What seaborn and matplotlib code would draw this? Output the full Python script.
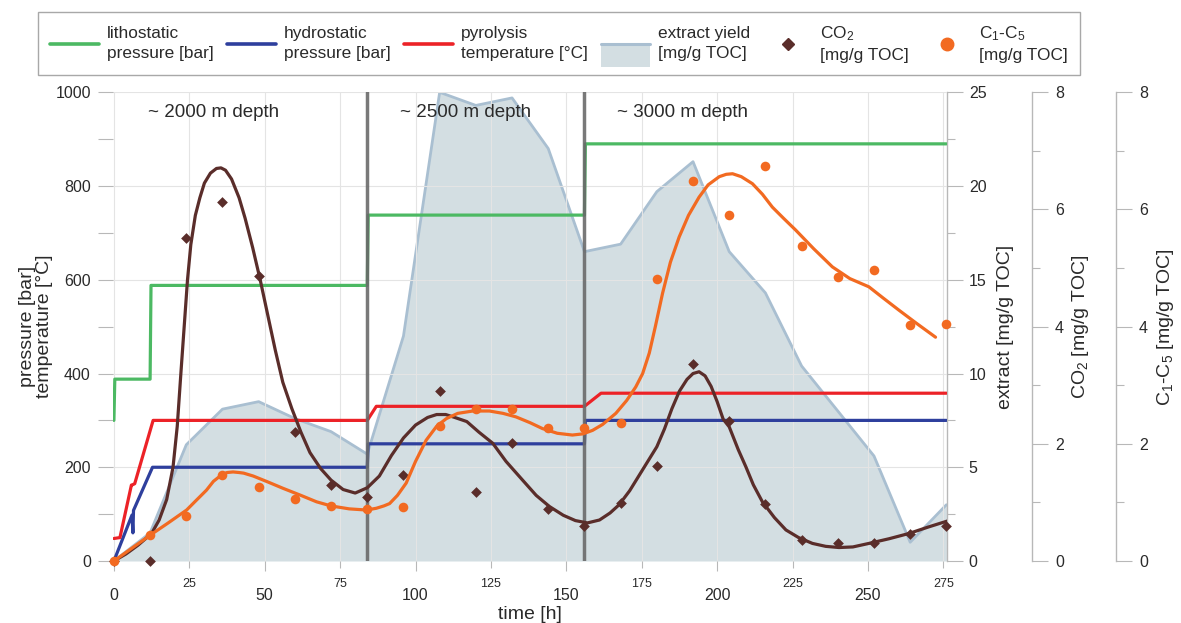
import matplotlib
matplotlib.use("Agg")
import matplotlib.pyplot as plt
import seaborn as sns
from matplotlib.lines import Line2D
from matplotlib.patches import Rectangle
from matplotlib.legend_handler import HandlerBase
from matplotlib.ticker import MultipleLocator, FixedLocator, FixedFormatter

# ---------------- data ----------------
litho_t = [0, 0.3, 12.0, 12.3, 84.0, 84.3, 156.0, 156.3, 276.0]
litho_p = [300, 388, 388, 588, 588, 738, 738, 890, 890]

hydro_t = [0, 6.0, 6.3, 6.5, 12.8, 84.0, 84.3, 156.0, 156.3, 276.0]
hydro_p = [0, 98, 60, 108, 200, 200, 250, 250, 300, 300]

temp_t = [0, 2.0, 5.8, 6.3, 6.9, 13.0, 84.0, 87.0, 156.0, 161.5, 276.0]
temp_c = [48, 50, 162, 163, 165, 300, 300, 330, 330, 358, 358]

sample_t = [0, 12, 24, 36, 48, 60, 72, 84, 96, 108, 120, 132,
            144, 156, 168, 180, 192, 204, 216, 228, 240, 252, 264, 276]
extract = [0, 1.5, 6.2, 8.1, 8.5, 7.6, 6.9, 5.7, 12.0, 25.0, 24.3, 24.7,
           22.0, 16.5, 16.9, 19.7, 21.3, 16.5, 14.3, 10.4, 8.0, 5.6, 1.0, 3.0]
co2 = [0, 0.0, 5.51, 6.13, 4.86, 2.21, 1.30, 1.10, 1.47, 2.91, 1.17, 2.02,
       0.88, 0.60, 0.99, 1.62, 3.36, 2.39, 0.98, 0.36, 0.30, 0.30, 0.46, 0.60]
c15 = [0, 0.45, 0.76, 1.47, 1.26, 1.06, 0.94, 0.88, 0.93, 2.31, 2.60, 2.59,
       2.27, 2.27, 2.36, 4.81, 6.49, 5.91, 6.74, 5.37, 4.85, 4.96, 4.03, 4.05]

# fitted trend curves
co2_fit_t = [0, 4, 8, 12.5, 15, 17.5, 19.6, 21, 22.2, 23.3, 24.4, 25.5, 27,
             28.5, 30, 32, 34, 35.5, 37, 39, 41.5, 43.5, 46, 48.5, 51, 53.5,
             56, 59, 62, 65, 68.5, 72, 76, 80, 84, 88, 92, 96, 100, 104,
             107, 110, 113, 117, 121, 125.6, 130, 135.5, 140, 144.4, 149,
             153, 157, 161, 164.5, 167.5, 171, 174, 177, 180, 182.5, 185,
             187.5, 190, 192, 194, 196, 198, 200, 202, 204, 207, 209.5, 212,
             215, 219, 222.8, 227, 231.6, 236, 240.4, 245, 250.3, 257, 263.6,
             270, 276.8]
co2_fit = [0, 0.12, 0.27, 0.47, 0.7, 1.05, 1.6, 2.3, 3.2, 4.0, 4.8, 5.4, 5.9,
           6.2, 6.45, 6.62, 6.7, 6.71, 6.67, 6.52, 6.2, 5.85, 5.35, 4.8, 4.2,
           3.6, 3.05, 2.6, 2.2, 1.85, 1.58, 1.38, 1.22, 1.16, 1.25, 1.45,
           1.8, 2.1, 2.32, 2.45, 2.5, 2.5, 2.45, 2.38, 2.2, 2.01, 1.7, 1.38,
           1.12, 0.93, 0.78, 0.69, 0.65, 0.7, 0.82, 0.96, 1.2, 1.45, 1.7,
           1.95, 2.25, 2.6, 2.9, 3.1, 3.2, 3.23, 3.16, 2.98, 2.72, 2.42,
           2.29, 1.9, 1.61, 1.3, 1.01, 0.74, 0.53, 0.4, 0.30, 0.25, 0.23,
           0.24, 0.30, 0.38, 0.47, 0.58, 0.69]

c15_fit_t = [0, 6, 12, 18, 24.1, 27, 30.7, 33, 35.7, 37.5, 39.5, 41.5, 43,
             46.2, 51, 56.1, 62, 67.2, 72, 78, 83.7, 87, 89.5, 91.4, 94, 96.9,
             100, 103.5, 107, 110.2, 114, 119, 124.5, 129, 133.3, 138, 142.1,
             147, 152, 155.5, 158.7, 162, 166.4, 170, 173, 175.3, 177.5,
             179.5, 181.9, 184.5, 187.4, 190.5, 194, 197, 200.7, 203, 205.1,
             208, 211.7, 215, 218.3, 222, 226, 232, 238.2, 244, 250.3, 255,
             260.3, 266, 272.4]
c15_fit = [0, 0.22, 0.44, 0.65, 0.87, 1.02, 1.21, 1.36, 1.47, 1.51, 1.52,
           1.51, 1.50, 1.45, 1.35, 1.24, 1.12, 1.01, 0.94, 0.89, 0.87, 0.9,
           0.94, 0.98, 1.12, 1.33, 1.7, 2.06, 2.3, 2.43, 2.52, 2.56, 2.56,
           2.52, 2.46, 2.36, 2.26, 2.18, 2.15, 2.17, 2.23, 2.33, 2.52, 2.74,
           2.97, 3.2, 3.55, 4.0, 4.57, 5.1, 5.53, 5.9, 6.21, 6.42, 6.56,
           6.6, 6.61, 6.56, 6.44, 6.26, 6.04, 5.85, 5.65, 5.33, 5.02, 4.82,
           4.68, 4.49, 4.28, 4.06, 3.82]

stage_bounds = [84, 156]
stage_labels = ["~ 2000 m depth", "~ 2500 m depth", "~ 3000 m depth"]

x_major = [0, 50, 100, 150, 200, 250]
x_minor = [25, 75, 125, 175, 225, 275]

legend_labels = ["lithostatic\npressure [bar]", "hydrostatic\npressure [bar]",
                 "pyrolysis\ntemperature [°C]", "extract yield\n[mg/g TOC]",
                 "CO$_2$\n[mg/g TOC]", "C$_1$-C$_5$\n[mg/g TOC]"]

# ---------------- style ----------------
sns.set_theme(style="white")
plt.rcParams["font.family"] = ["Liberation Sans", "DejaVu Sans"]
plt.rcParams["mathtext.fontset"] = "custom"
plt.rcParams["mathtext.rm"] = "Liberation Sans"
plt.rcParams["mathtext.it"] = "Liberation Sans:italic"
plt.rcParams["mathtext.bf"] = "Liberation Sans:bold"
plt.rcParams["axes.axisbelow"] = True
plt.rcParams["lines.solid_joinstyle"] = "round"
plt.rcParams["lines.solid_capstyle"] = "round"

GREEN = "#4cb963"
BLUE = "#2e3f9d"
RED = "#ec2227"
FILL = "#d3dee2"
EDGE = "#a9bfd1"
BROWN = "#5a2d2a"
ORANGE = "#f26a21"
SEP = "#6a6a6a"
TICK = "#b8b8b8"
TXT = "#2a2a2a"

fig = plt.figure(figsize=(11.81, 6.23), dpi=100)
L, B, W, H = 113 / 1181, 62 / 623, 834.3 / 1181, 468.7 / 623
ax = fig.add_axes([L, B, W, H])
ax_ext = ax.twinx()
ax_co2 = ax.twinx()
ax_c15 = ax.twinx()

ax_ext.set_zorder(0)
ax.set_zorder(1)
ax_co2.set_zorder(2)
ax_c15.set_zorder(3)
ax.patch.set_visible(False)

# extract yield area
ax_ext.fill_between(sample_t, extract, 0, color=FILL, lw=0, zorder=1)
sns.lineplot(x=sample_t, y=extract, ax=ax_ext, color=EDGE, lw=2.0,
             estimator=None, sort=False, legend=False, zorder=2)

# pressures / temperature
sns.lineplot(x=litho_t, y=litho_p, ax=ax, color=GREEN, lw=2.3,
             estimator=None, sort=False, legend=False, zorder=2)
sns.lineplot(x=hydro_t, y=hydro_p, ax=ax, color=BLUE, lw=2.3,
             estimator=None, sort=False, legend=False, zorder=2)
sns.lineplot(x=temp_t, y=temp_c, ax=ax, color=RED, lw=2.3,
             estimator=None, sort=False, legend=False, zorder=2)
for xb in stage_bounds:
    ax.axvline(xb, color=SEP, lw=2.5, alpha=0.9, zorder=3)

# CO2
sns.lineplot(x=co2_fit_t, y=co2_fit, ax=ax_co2, color=BROWN, lw=2.3,
             estimator=None, sort=False, legend=False, zorder=2)
sns.scatterplot(x=sample_t, y=co2, ax=ax_co2, color=BROWN, marker="D",
                s=30, linewidth=0, legend=False, zorder=3, clip_on=False)
# C1-C5
sns.lineplot(x=c15_fit_t, y=c15_fit, ax=ax_c15, color=ORANGE, lw=2.3,
             estimator=None, sort=False, legend=False, zorder=2)
sns.scatterplot(x=sample_t, y=c15, ax=ax_c15, color=ORANGE, marker="o",
                s=48, linewidth=0, legend=False, zorder=3, clip_on=False)

# ---------------- axes ----------------
ax.set_xlim(-0.3, 276.3)
ax.set_ylim(0, 1000)
ax_ext.set_ylim(0, 25)
ax_co2.set_ylim(0, 8)
ax_c15.set_ylim(0, 8)

ax.xaxis.set_major_locator(FixedLocator(x_major))
ax.xaxis.set_minor_locator(FixedLocator(x_minor))
ax.xaxis.set_minor_formatter(FixedFormatter([str(v) for v in x_minor]))
ax.yaxis.set_major_locator(MultipleLocator(200))
ax.yaxis.set_minor_locator(MultipleLocator(100))
ax_ext.yaxis.set_major_locator(MultipleLocator(5))
ax_ext.yaxis.set_minor_locator(MultipleLocator(2.5))
for a in (ax_co2, ax_c15):
    a.yaxis.set_major_locator(MultipleLocator(2))
    a.yaxis.set_minor_locator(MultipleLocator(1))

ax.grid(True, which="both", axis="x", color="#e4e4e4", lw=0.8)
ax.grid(True, which="major", axis="y", color="#e4e4e4", lw=0.8)

for s in ax.spines.values():
    s.set_visible(False)
for a in (ax_ext, ax_co2, ax_c15):
    for k, s in a.spines.items():
        s.set_visible(k == "right")
    a.spines["right"].set_color(TICK)
    a.spines["right"].set_linewidth(1.0)
ax_co2.spines["right"].set_position(("axes", 1.1015))
ax_c15.spines["right"].set_position(("axes", 1.2022))

ax.tick_params(axis="y", which="both", direction="out", length=11, width=0.8,
               color=TICK, pad=5, labelsize=11.5, labelcolor=TXT, left=True)
ax.tick_params(axis="x", which="major", direction="out", length=7.5, width=0.8,
               color=TICK, pad=12, labelsize=11.5, labelcolor=TXT, bottom=True)
ax.tick_params(axis="x", which="minor", direction="out", length=5, width=0.8,
               color=TICK, pad=7.5, labelsize=9, labelcolor=TXT, bottom=True)
ax_ext.tick_params(axis="y", which="major", direction="out", length=11.5,
                   width=0.8, color=TICK, pad=4, labelsize=11.5, labelcolor=TXT)
ax_ext.tick_params(axis="y", which="minor", direction="out", length=5.5,
                   width=0.8, color=TICK)
for a in (ax_co2, ax_c15):
    a.tick_params(axis="y", which="major", direction="out", length=11.5,
                  width=0.8, color=TICK, pad=5, labelsize=11.5, labelcolor=TXT)
    a.tick_params(axis="y", which="minor", direction="out", length=5.5,
                  width=0.8, color=TICK)

ax.set_xlabel("time [h]", fontsize=14, color=TXT)
ax.xaxis.set_label_coords(0.5, -0.095)
ax.set_ylabel("pressure [bar]\ntemperature [°C]", fontsize=14, color=TXT,
              linespacing=1.0)
ax.yaxis.set_label_coords(-0.072, 0.5)
ax_ext.set_ylabel("extract [mg/g TOC]", fontsize=14, color=TXT)
ax_ext.yaxis.set_label_coords(1.059, 0.5)
ax_co2.set_ylabel("CO$_2$ [mg/g TOC]", fontsize=14, color=TXT)
ax_co2.yaxis.set_label_coords(1.147, 0.5)
ax_c15.set_ylabel("C$_1$-C$_5$ [mg/g TOC]", fontsize=14, color=TXT)
ax_c15.yaxis.set_label_coords(1.249, 0.5)

for xf, lab in zip([0.042, 0.344, 0.604], stage_labels):
    ax.text(xf, 0.957, lab, transform=ax.transAxes, fontsize=13.5,
            color=TXT, va="center", ha="left", zorder=5)


# ---------------- legend ----------------
class HandlerExtract(HandlerBase):
    def create_artists(self, legend, orig_handle, xdescent, ydescent,
                       width, height, fontsize, trans):
        ymid = height / 2 - ydescent
        rect = Rectangle((-xdescent, ymid - 1.9 * height), width, 1.9 * height,
                         facecolor=FILL, edgecolor="none", transform=trans)
        line = Line2D([-xdescent, -xdescent + width], [ymid, ymid],
                      color=EDGE, lw=2.2, transform=trans)
        return [rect, line]


h_ext = Rectangle((0, 0), 1, 1)
handles = [Line2D([], [], color=GREEN, lw=2.6),
           Line2D([], [], color=BLUE, lw=2.6),
           Line2D([], [], color=RED, lw=2.6),
           h_ext,
           Line2D([], [], ls="none", marker="D", color=BROWN, markersize=6.5),
           Line2D([], [], ls="none", marker="o", color=ORANGE, markersize=9)]

leg = fig.legend(handles, legend_labels, loc="upper left",
                 bbox_to_anchor=(38 / 1181, 1 - 12 / 623, 1042 / 1181, 0),
                 bbox_transform=fig.transFigure, mode="expand", ncol=6,
                 fontsize=12.4, frameon=True, fancybox=False, framealpha=1,
                 edgecolor="#a8a8a8", borderpad=0.72, handlelength=2.85,
                 handletextpad=0.42, borderaxespad=0,
                 handler_map={h_ext: HandlerExtract()})
leg.get_frame().set_linewidth(1.0)
for t in leg.get_texts():
    t.set_color(TXT)
    t.set_linespacing(1.4)

fig.savefig("out.png", dpi=100, facecolor="white")
